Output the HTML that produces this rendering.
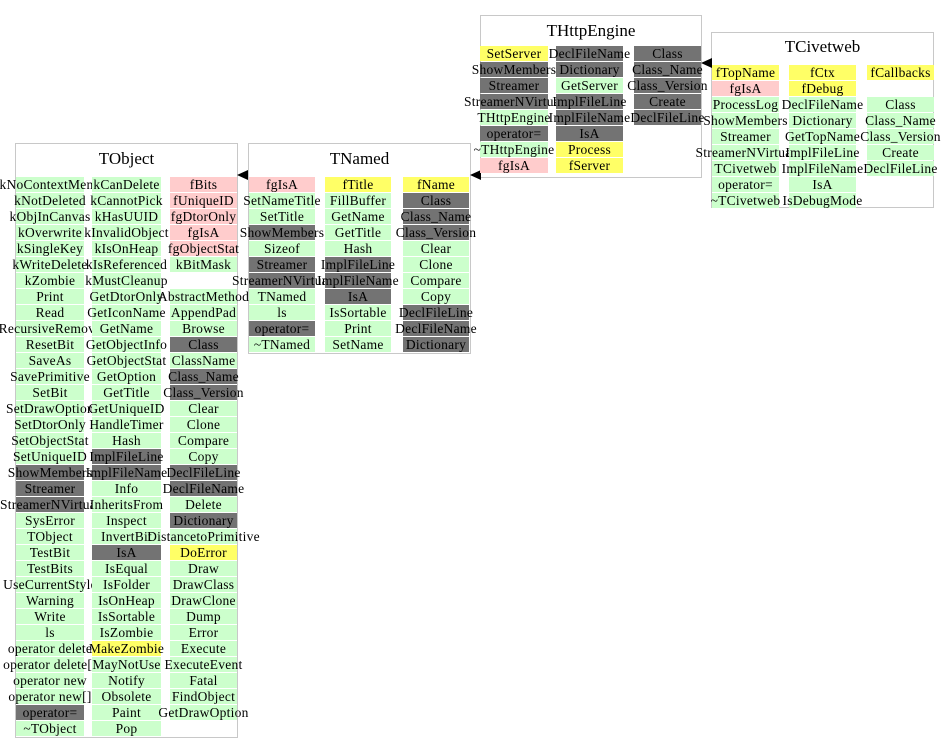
<!DOCTYPE html>
<html><head><meta charset="utf-8"><style>
body{margin:0;width:949px;height:752px;background:#fff;position:relative;overflow:hidden;font-family:"Liberation Serif",serif;font-size:13.5px;letter-spacing:0.25px;color:#000}
.box{position:absolute;border:1px solid #c8c8c8;background:#fff;box-sizing:border-box}
.t{position:absolute;left:0;right:0;text-align:center;font-size:17px;letter-spacing:0}
.col{position:absolute;width:68px}
.col div{height:15px;margin-bottom:1px;line-height:15px;text-align:center;white-space:nowrap;display:flex;justify-content:center;background:#ccffcc}
.col div.g{background:#737373}
.col div.p{background:#ffcccc}
.col div.y{background:#ffff66}
.col div.n{background:transparent}
.ar{position:absolute;width:0;height:0;border-top:5px solid transparent;border-bottom:5px solid transparent;border-right:11px solid #000}
</style></head><body>

<div class="box" style="left:15px;top:143px;width:223px;height:595px"><div class="t" style="top:5px">TObject</div></div>
<div class="box" style="left:248px;top:143px;width:223px;height:211px"><div class="t" style="top:5px">TNamed</div></div>
<div class="box" style="left:480px;top:15px;width:222px;height:163px"><div class="t" style="top:5px">THttpEngine</div></div>
<div class="box" style="left:711px;top:32px;width:223px;height:176px"><div class="t" style="top:4px">TCivetweb</div></div>

<div class="ar" style="left:237px;top:170px"></div>
<div class="ar" style="left:470px;top:170px"></div>
<div class="ar" style="left:701px;top:58px"></div>

<div class="col" style="left:16px;top:177px">
<div>kNoContextMenu</div><div>kNotDeleted</div><div>kObjInCanvas</div><div>kOverwrite</div><div>kSingleKey</div><div>kWriteDelete</div><div>kZombie</div><div>Print</div><div>Read</div><div>RecursiveRemove</div><div>ResetBit</div><div>SaveAs</div><div>SavePrimitive</div><div>SetBit</div><div>SetDrawOption</div><div>SetDtorOnly</div><div>SetObjectStat</div><div>SetUniqueID</div><div class="g">ShowMembers</div><div class="g">Streamer</div><div class="g">StreamerNVirtual</div><div>SysError</div><div>TObject</div><div>TestBit</div><div>TestBits</div><div>UseCurrentStyle</div><div>Warning</div><div>Write</div><div>ls</div><div>operator delete</div><div>operator delete[]</div><div>operator new</div><div>operator new[]</div><div class="g">operator=</div><div>~TObject</div>
</div>
<div class="col" style="left:92px;top:177px;width:69px">
<div>kCanDelete</div><div>kCannotPick</div><div>kHasUUID</div><div>kInvalidObject</div><div>kIsOnHeap</div><div>kIsReferenced</div><div>kMustCleanup</div><div>GetDtorOnly</div><div>GetIconName</div><div>GetName</div><div>GetObjectInfo</div><div>GetObjectStat</div><div>GetOption</div><div>GetTitle</div><div>GetUniqueID</div><div>HandleTimer</div><div>Hash</div><div class="g">ImplFileLine</div><div class="g">ImplFileName</div><div>Info</div><div>InheritsFrom</div><div>Inspect</div><div>InvertBit</div><div class="g">IsA</div><div>IsEqual</div><div>IsFolder</div><div>IsOnHeap</div><div>IsSortable</div><div>IsZombie</div><div class="y">MakeZombie</div><div>MayNotUse</div><div>Notify</div><div>Obsolete</div><div>Paint</div><div>Pop</div>
</div>
<div class="col" style="left:170px;top:177px;width:67px">
<div class="p">fBits</div><div class="p">fUniqueID</div><div class="p">fgDtorOnly</div><div class="p">fgIsA</div><div class="p">fgObjectStat</div><div>kBitMask</div><div class="n"></div><div>AbstractMethod</div><div>AppendPad</div><div>Browse</div><div class="g">Class</div><div>ClassName</div><div class="g">Class_Name</div><div class="g">Class_Version</div><div>Clear</div><div>Clone</div><div>Compare</div><div>Copy</div><div class="g">DeclFileLine</div><div class="g">DeclFileName</div><div>Delete</div><div class="g">Dictionary</div><div>DistancetoPrimitive</div><div class="y">DoError</div><div>Draw</div><div>DrawClass</div><div>DrawClone</div><div>Dump</div><div>Error</div><div>Execute</div><div>ExecuteEvent</div><div>Fatal</div><div>FindObject</div><div>GetDrawOption</div>
</div>

<div class="col" style="left:249px;top:177px;width:66px">
<div class="p">fgIsA</div><div>SetNameTitle</div><div>SetTitle</div><div class="g">ShowMembers</div><div>Sizeof</div><div class="g">Streamer</div><div class="g">StreamerNVirtual</div><div>TNamed</div><div>ls</div><div class="g">operator=</div><div>~TNamed</div>
</div>
<div class="col" style="left:325px;top:177px;width:66px">
<div class="y">fTitle</div><div>FillBuffer</div><div>GetName</div><div>GetTitle</div><div>Hash</div><div class="g">ImplFileLine</div><div class="g">ImplFileName</div><div class="g">IsA</div><div>IsSortable</div><div>Print</div><div>SetName</div>
</div>
<div class="col" style="left:403px;top:177px;width:66px">
<div class="y">fName</div><div class="g">Class</div><div class="g">Class_Name</div><div class="g">Class_Version</div><div>Clear</div><div>Clone</div><div>Compare</div><div>Copy</div><div class="g">DeclFileLine</div><div class="g">DeclFileName</div><div class="g">Dictionary</div>
</div>

<div class="col" style="left:480px;top:46px">
<div class="y">SetServer</div><div class="g">ShowMembers</div><div class="g">Streamer</div><div class="g">StreamerNVirtual</div><div>THttpEngine</div><div class="g">operator=</div><div>~THttpEngine</div><div class="p">fgIsA</div>
</div>
<div class="col" style="left:556px;top:46px;width:67px">
<div class="g">DeclFileName</div><div class="g">Dictionary</div><div>GetServer</div><div class="g">ImplFileLine</div><div class="g">ImplFileName</div><div class="g">IsA</div><div class="y">Process</div><div class="y">fServer</div>
</div>
<div class="col" style="left:634px;top:46px;width:67px">
<div class="g">Class</div><div class="g">Class_Name</div><div class="g">Class_Version</div><div class="g">Create</div><div class="g">DeclFileLine</div>
</div>

<div class="col" style="left:712px;top:65px;width:67px">
<div class="y">fTopName</div><div class="p">fgIsA</div><div>ProcessLog</div><div>ShowMembers</div><div>Streamer</div><div>StreamerNVirtual</div><div>TCivetweb</div><div>operator=</div><div>~TCivetweb</div>
</div>
<div class="col" style="left:789px;top:65px;width:67px">
<div class="y">fCtx</div><div class="y">fDebug</div><div>DeclFileName</div><div>Dictionary</div><div>GetTopName</div><div>ImplFileLine</div><div>ImplFileName</div><div>IsA</div><div>IsDebugMode</div>
</div>
<div class="col" style="left:867px;top:65px;width:67px">
<div class="y">fCallbacks</div><div class="n"></div><div>Class</div><div>Class_Name</div><div>Class_Version</div><div>Create</div><div>DeclFileLine</div>
</div>
</body></html>
